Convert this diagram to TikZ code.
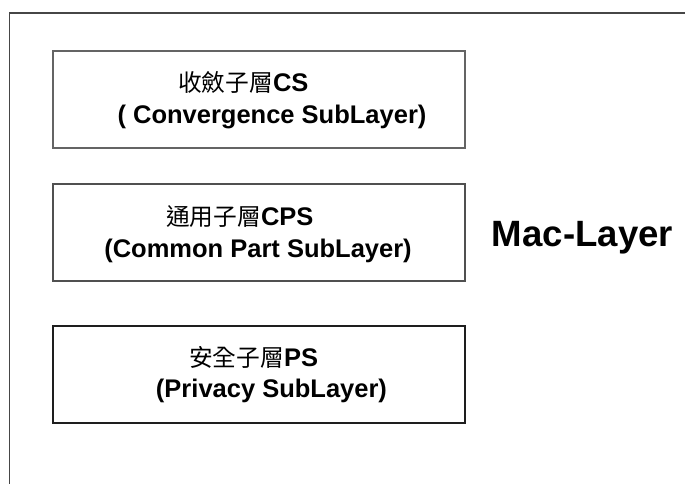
\documentclass[tikz,border=0pt]{standalone}
\usepackage{fontspec}
\setmainfont{Liberation Sans}
\newfontfamily\cjk[Scale=0.93]{Noto Sans CJK TC}
\definecolor{framecol}{RGB}{70,70,70}
\definecolor{boxa}{RGB}{100,100,100}
\definecolor{boxb}{RGB}{80,80,80}
\definecolor{boxc}{RGB}{30,30,30}
\begin{document}
\begin{tikzpicture}[x=1pt,y=-1pt,
  layerbox/.style={draw=#1, line width=1.4pt, minimum width=412pt, minimum height=97pt, inner sep=0pt},
  txt/.style={inner sep=0pt, font=\fontsize{25.5}{30}\selectfont\bfseries}]
\useasboundingbox (0,0) rectangle (685,484);
\fill[white] (0,0) rectangle (685,484);
% outer frame
\coordinate (ftr) at (685,13);
\coordinate (ftl) at (9.5,13);
\coordinate (fbl) at (9.5,484);
\draw[line width=1.4pt, framecol] (ftr) -- (ftl) -- (fbl);
% boxes
\node[layerbox=boxa] (cs) at (259,99.5) {};
\node[layerbox=boxb] (cps) at (259,232.5) {};
\node[layerbox=boxc] (ps) at (259,374.5) {};
% texts
\node[txt, anchor=west] (cs1) at (178,82) {{\cjk\mdseries 收斂子層}CS};
\node[txt] (cs2) at (272,117) {( Convergence SubLayer)};
\node[txt, anchor=west] (cps1) at (166,217) {{\cjk\mdseries 通用子層}CPS};
\node[txt] (cps2) at (258,251) {(Common Part SubLayer)};
\node[txt, anchor=west] (ps1) at (189,357) {{\cjk\mdseries 安全子層}PS};
\node[txt] (ps2) at (271.5,391) {(Privacy SubLayer)};
\node[inner sep=0pt, font=\fontsize{36.6}{40}\selectfont\bfseries] (mac) at (582.5,238) {Mac-Layer};
\end{tikzpicture}
\end{document}
